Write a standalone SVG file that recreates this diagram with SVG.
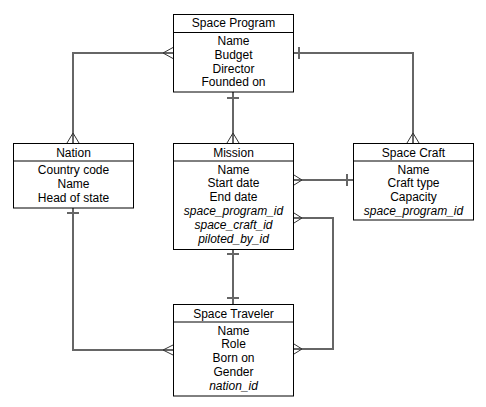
<svg xmlns="http://www.w3.org/2000/svg" width="486" height="407" viewBox="0 0 486 407">
<style>
.box{fill:#fff;stroke:#000;stroke-width:1}
.t{font-family:"Liberation Sans",Arial,sans-serif;font-size:12px;fill:#000;text-anchor:middle}
.i{font-style:italic}
.ln{fill:none;stroke:#666;stroke-width:2}
.cf{fill:none;stroke:#333;stroke-width:1}
.bar{stroke:#666;stroke-width:2}
</style>
<rect width="486" height="407" fill="#fff"/>
<g id="connectors">
<path class="ln" d="M73,143 V53 H173"/>
<path class="cf" d="M67,143 L73,133 L79,143"/>
<path class="cf" d="M173,47.5 L163,53 L173,58.5"/>
<path class="ln" d="M294,53 H413 V143"/>
<line class="bar" x1="299" y1="47" x2="299" y2="59"/>
<path class="cf" d="M407,143 L413,133 L419,143"/>
<path class="ln" d="M233,92 V143"/>
<line class="bar" x1="227" y1="98" x2="239" y2="98"/>
<path class="cf" d="M227,143 L233,133 L239,143"/>
<path class="ln" d="M294,180 H353"/>
<path class="cf" d="M294,175 L302,180 L294,185"/>
<line class="bar" x1="347" y1="174" x2="347" y2="186"/>
<path class="ln" d="M294,218 H333 V349 H294"/>
<path class="cf" d="M294,213 L302,218 L294,223"/>
<path class="cf" d="M294,344 L302,349 L294,354"/>
<path class="ln" d="M233,250 V304"/>
<line class="bar" x1="227" y1="254" x2="239" y2="254"/>
<line class="bar" x1="227" y1="298" x2="239" y2="298"/>
<path class="ln" d="M73,208 V350 H173"/>
<line class="bar" x1="67" y1="213" x2="79" y2="213"/>
<path class="cf" d="M173,345 L163,350 L173,355"/>
</g>
<g id="space-program">
<rect class="box" x="173.5" y="14.5" width="120" height="77.5"/>
<line class="box" x1="173.5" y1="32.5" x2="293.5" y2="32.5"/>
<text class="t" x="233.5" y="27">Space Program</text>
<text class="t" x="233.5" y="45">Name</text>
<text class="t" x="233.5" y="58.8">Budget</text>
<text class="t" x="233.5" y="72.6">Director</text>
<text class="t" x="233.5" y="86.4">Founded on</text>
</g>
<g id="nation">
<rect class="box" x="13.5" y="143.5" width="120" height="64.5"/>
<line class="box" x1="13.5" y1="161" x2="133.5" y2="161"/>
<text class="t" x="73.5" y="156.5">Nation</text>
<text class="t" x="73.5" y="174">Country code</text>
<text class="t" x="73.5" y="187.8">Name</text>
<text class="t" x="73.5" y="201.6">Head of state</text>
</g>
<g id="mission">
<rect class="box" x="173.5" y="143.5" width="120" height="106"/>
<line class="box" x1="173.5" y1="161" x2="293.5" y2="161"/>
<text class="t" x="233.5" y="156.5">Mission</text>
<text class="t" x="233.5" y="173.5">Name</text>
<text class="t" x="233.5" y="187.4">Start date</text>
<text class="t" x="233.5" y="201.3">End date</text>
<text class="t i" x="233.5" y="215.2">space_program_id</text>
<text class="t i" x="233.5" y="229.1">space_craft_id</text>
<text class="t i" x="233.5" y="243">piloted_by_id</text>
</g>
<g id="space-craft">
<rect class="box" x="353.5" y="143.5" width="120" height="76.5"/>
<line class="box" x1="353.5" y1="161" x2="473.5" y2="161"/>
<text class="t" x="413.5" y="156.5">Space Craft</text>
<text class="t" x="413.5" y="173.5">Name</text>
<text class="t" x="413.5" y="187.4">Craft type</text>
<text class="t" x="413.5" y="201.3">Capacity</text>
<text class="t i" x="413.5" y="215.2">space_program_id</text>
</g>
<g id="space-traveler">
<rect class="box" x="173.5" y="304.5" width="120" height="91.5"/>
<line class="box" x1="173.5" y1="322" x2="293.5" y2="322"/>
<text class="t" x="233.5" y="317.5">Space Traveler</text>
<text class="t" x="233.5" y="334.5">Name</text>
<text class="t" x="233.5" y="348.4">Role</text>
<text class="t" x="233.5" y="362.3">Born on</text>
<text class="t" x="233.5" y="376.2">Gender</text>
<text class="t i" x="233.5" y="390.1">nation_id</text>
</g>
</svg>
